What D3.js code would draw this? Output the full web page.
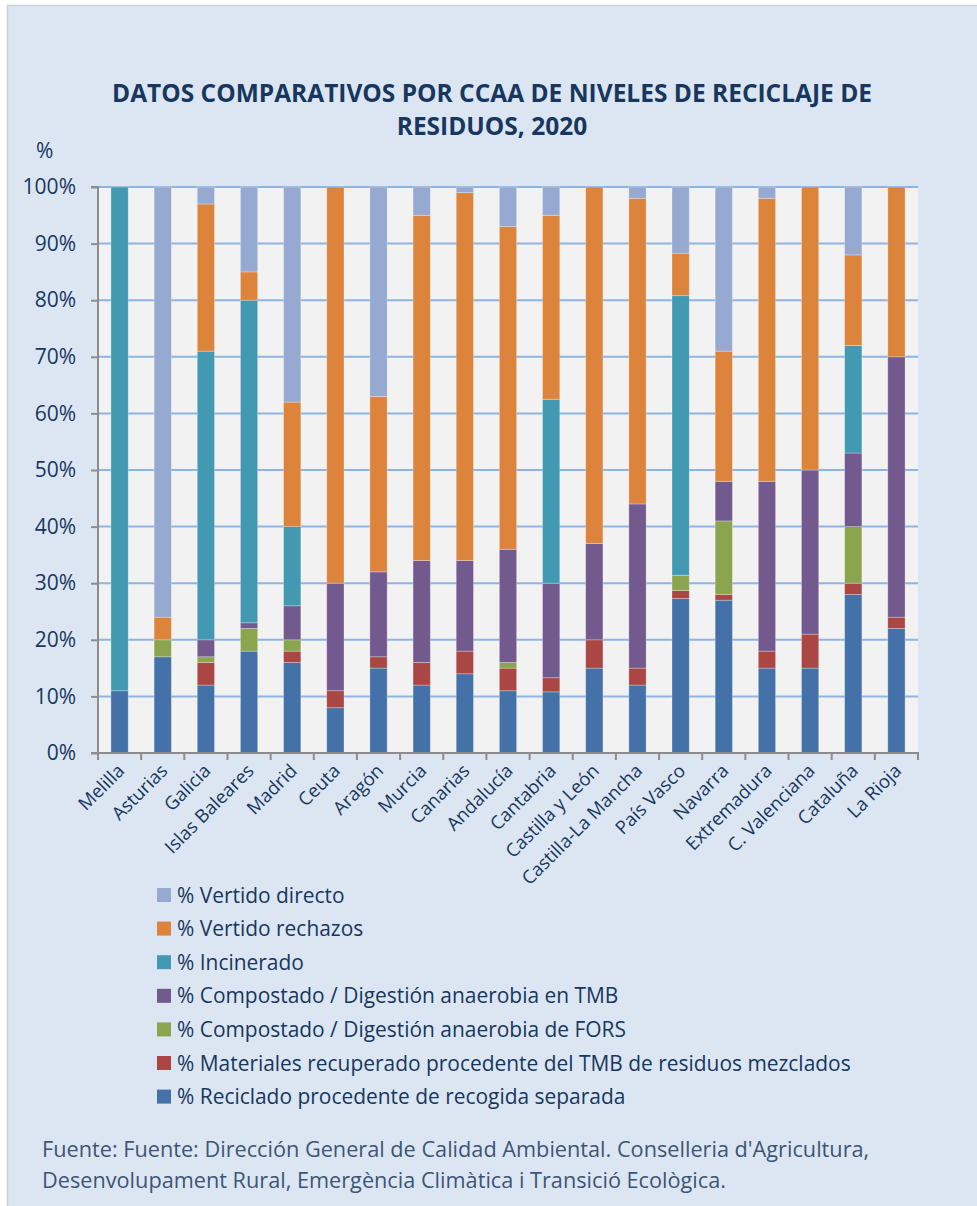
<!DOCTYPE html>
<html><head><meta charset="utf-8">
<script src="https://cdn.jsdelivr.net/npm/d3@7"></script>
<style>
html,body{margin:0;padding:0;background:#fff;}
svg{display:block;}
text{font-family:"Open Sans","Noto Sans",sans-serif;}
</style></head>
<body>
<svg id="chart" width="977" height="1206"></svg>
<script>
const categories = ["Melilla","Asturias","Galicia","Islas Baleares","Madrid","Ceuta","Aragón","Murcia","Canarias","Andalucía","Cantabria","Castilla y León","Castilla-La Mancha","País Vasco","Navarra","Extremadura","C. Valenciana","Cataluña","La Rioja"];
const seriesNames = ["% Reciclado procedente de recogida separada","% Materiales recuperado procedente del TMB de residuos mezclados","% Compostado / Digestión anaerobia de FORS","% Compostado / Digestión anaerobia en TMB","% Incinerado","% Vertido rechazos","% Vertido directo"];
const reciclado   = [11,17,12,18,16, 8,15,12,14,11,10.8,15,12,27.3,27,15,15,28,22];
const materiales  = [ 0, 0, 4, 0, 2, 3, 2, 4, 4, 4, 2.5, 5, 3, 1.4, 1, 3, 6, 2, 2];
const fors        = [ 0, 3, 1, 4, 2, 0, 0, 0, 0, 1, 0,   0, 0, 2.7,13, 0, 0,10, 0];
const tmb         = [ 0, 0, 3, 1, 6,19,15,18,16,20,16.7,17,29, 0,   7,30,29,13,46];
const incinerado  = [89, 0,51,57,14, 0, 0, 0, 0, 0,32.5, 0, 0,49.4, 0, 0, 0,19, 0];
const rechazos    = [ 0, 4,26, 5,22,70,31,61,65,57,32.5,63,54, 7.5,23,50,50,16,30];
const directo     = [ 0,76, 3,15,38, 0,37, 5, 1, 7, 5,   0, 2,11.7,29, 2, 0,12, 0];
const yTicks = [0,10,20,30,40,50,60,70,80,90,100];
const colors = ["#4472A8","#AA4643","#8BA54F","#72598E","#4299B1","#DD843C","#95A9D1"];
const titleLines = ["DATOS COMPARATIVOS POR CCAA DE NIVELES DE RECICLAJE DE","RESIDUOS, 2020"];
const sourceLines = ["Fuente: Fuente: Dirección General de Calidad Ambiental. Conselleria d'Agricultura,","Desenvolupament Rural, Emergència Climàtica i Transició Ecològica."];

const seriesArrays = [reciclado,materiales,fors,tmb,incinerado,rechazos,directo];
const rows = categories.map((c,i)=>{const o={cat:c}; seriesNames.forEach((s,k)=>o[s]=seriesArrays[k][i]); return o;});
const stacked = d3.stack().keys(seriesNames)(rows);

const svg = d3.select("#chart");
const textColor = "#17375E";
svg.append("rect").attr("x",0).attr("y",0).attr("width",977).attr("height",1206).attr("fill","#ffffff");
svg.append("rect").attr("x",7.5).attr("y",5.5).attr("width",975).attr("height",1205).attr("fill","#DCE6F2").attr("stroke","#D0D0D0").attr("stroke-width",1.5);

const L=98, R=918, T=187, B=753;
const x = d3.scaleBand().domain(categories).range([L,R]).paddingInner(0.6).paddingOuter(0.3);
const y = d3.scaleLinear().domain([0,100]).range([B,T]);

svg.append("rect").attr("x",L).attr("y",T).attr("width",R-L).attr("height",B-T).attr("fill","#F2F2F2");

svg.append("g").selectAll("line").data(yTicks.filter(d=>d>0)).join("line")
  .attr("x1",L).attr("x2",R).attr("y1",d=>y(d)).attr("y2",d=>y(d))
  .attr("stroke","#8DB4E3").attr("stroke-width",2);

svg.append("g").selectAll("g").data(stacked).join("g")
  .attr("fill",(d,i)=>colors[i])
  .selectAll("rect").data(d=>d).join("rect")
  .attr("x",d=>x(d.data.cat)).attr("width",x.bandwidth())
  .attr("y",d=>y(d[1])).attr("height",d=>Math.max(0,y(d[0])-y(d[1])))
  .attr("stroke",d=>(d[1]-d[0])>0?"rgba(255,255,255,0.35)":"none").attr("stroke-width",0.8);

const yAxis = d3.axisLeft(y).tickValues(yTicks).tickFormat(d=>d+"%").tickSize(7).tickPadding(15);
const gy = svg.append("g").attr("transform",`translate(${L},0)`).call(yAxis);
gy.select(".domain").attr("stroke","#8C8C8C").attr("stroke-width",2).attr("d",`M-7,${T}H0V${B}H-7`);
gy.selectAll(".tick line").attr("stroke","#8C8C8C").attr("stroke-width",2);
gy.selectAll(".tick text").attr("fill",textColor).attr("font-size",21).attr("font-family","'Open Sans',sans-serif");

const gx = svg.append("g").attr("transform",`translate(0,${B})`);
gx.append("line").attr("x1",L-7).attr("x2",R+1).attr("y1",0).attr("y2",0).attr("stroke","#8C8C8C").attr("stroke-width",2);
const step = x.step();
const bounds = d3.range(categories.length+1).map(i=>L+i*step);
gx.selectAll(".tk").data(bounds).join("line").attr("class","tk")
  .attr("x1",d=>d).attr("x2",d=>d).attr("y1",0).attr("y2",7).attr("stroke","#8C8C8C").attr("stroke-width",2);
gx.selectAll(".lbl").data(categories).join("text").attr("class","lbl")
  .attr("transform",d=>`translate(${x(d)+x.bandwidth()/2+6},${19}) rotate(-45)`)
  .attr("text-anchor","end").attr("fill",textColor).attr("font-size",18.5).text(d=>d);

// title: tall bold, compressed to the reference width
const title = svg.append("g");
titleLines.forEach((t,i)=>{
  title.append("text").attr("x",492).attr("y",102+i*33).attr("text-anchor","middle")
    .attr("font-weight","bold").attr("font-size",25).attr("fill",textColor).text(t);
});
const tnodes = title.selectAll("text").nodes();
const k = 760/tnodes[0].getComputedTextLength();
tnodes.forEach(n=>{const w=n.getComputedTextLength(); d3.select(n).attr("textLength",w*k).attr("lengthAdjust","spacingAndGlyphs");});

svg.append("text").attr("x",36).attr("y",158).attr("fill",textColor).attr("font-size",21).text("%");

// legend
const leg = svg.append("g");
const legOrder = d3.range(seriesNames.length).reverse();
legOrder.forEach((kk,i)=>{
  const yy = 895 + i*33.6;
  leg.append("rect").attr("x",157).attr("y",yy-7).attr("width",14).attr("height",14).attr("fill",colors[kk]);
  leg.append("text").attr("x",177).attr("y",yy+7.5).attr("fill",textColor).attr("font-size",20).text(seriesNames[kk]);
});
const longest = leg.selectAll("text").nodes()[5];
const lf = 20*674/longest.getComputedTextLength();
leg.selectAll("text").attr("font-size",lf);

// source
const src = svg.append("g");
sourceLines.forEach((t,i)=>{
  src.append("text").attr("x",42).attr("y",1157+i*31).attr("fill","#3C5576").attr("font-size",20).text(t);
});
const sf = 20*828/src.select("text").node().getComputedTextLength();
src.selectAll("text").attr("font-size",sf);
</script>
</body></html>
